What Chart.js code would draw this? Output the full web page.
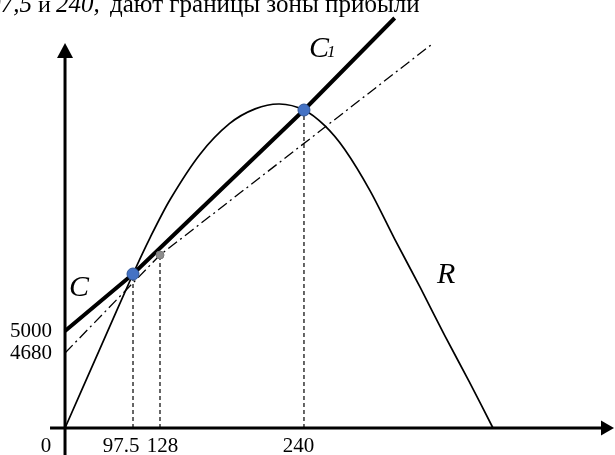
<!DOCTYPE html>
<html>
<head>
<meta charset="utf-8">
<style>
  html, body { margin: 0; padding: 0; background: #fff; }
  #wrap { width: 615px; height: 455px; }
</style>
<script src="https://cdn.jsdelivr.net/npm/chart.js@4.4.1/dist/chart.umd.min.js"></script>
</head>
<body>
<div id="wrap"><canvas id="c" width="615" height="455"></canvas></div>
<script>
// Marked values on the axes
const xTicks = [97.5, 128, 240];
const yTicks = [4680, 5000];

// Revenue curve R (output -> revenue)
const revenueX = [0, 50, 97.5, 117, 136, 159, 182, 202, 221, 240, 262, 283, 310, 336, 363, 389, 415, 440];
const revenueY = [0, 4740, 7928, 9812, 11769, 14070, 15647, 16407, 16659, 16350, 15544, 14332, 12196, 9720, 7239, 4933, 2877, 0];

// Cost line starting at 5000 (bold)
const costX = [0, 97.5, 240, 336];
const costY = [5000, 7928, 16350, 21076];

// Cost line starting at 4680 (dash-dot)
const cost1X = [0, 128, 377];
const cost1Y = [4680, 8903, 19790];

// Break-even points and the point at 128
const breakEvenX = [97.5, 240];
const breakEvenY = [7928, 16350];
const midX = [128];
const midY = [8903];

// The drawing is schematic: each axis is stretched piecewise between its marked values.
// Pairs are [value, share of the axis length].
const AXIS_BREAKS = {
  x: [[-14.3, 0], [0, 0.0179], [97.5, 0.1393], [128, 0.1875], [240, 0.4446], [440, 0.7821], [569, 1]],
  y: [[0, 0], [4680, 0.1752], [5000, 0.2266], [22000, 1]]
};
const AXIS_TICKS = { x: xTicks, y: yTicks };

class BrokenLinearScale extends Chart.LinearScale {
  static id = 'brokenLinear';
  static defaults = {};
  _segments() { return AXIS_BREAKS[this.id]; }
  determineDataLimits() {
    const b = this._segments();
    this.min = b[0][0];
    this.max = b[b.length - 1][0];
  }
  buildTicks() {
    return AXIS_TICKS[this.id].map(value => ({ value }));
  }
  getPixelForValue(value) {
    if (value === null || value === undefined || isNaN(value)) return NaN;
    const b = this._segments();
    let i = 1;
    while (i < b.length - 1 && value > b[i][0]) i++;
    const [v0, f0] = b[i - 1];
    const [v1, f1] = b[i];
    return this.getPixelForDecimal(f0 + (value - v0) / (v1 - v0) * (f1 - f0));
  }
  getValueForPixel(pixel) {
    const d = this.getDecimalForPixel(pixel);
    const b = this._segments();
    let i = 1;
    while (i < b.length - 1 && d > b[i][1]) i++;
    const [v0, f0] = b[i - 1];
    const [v1, f1] = b[i];
    return v0 + (d - f0) / (f1 - f0) * (v1 - v0);
  }
}
Chart.register(BrokenLinearScale);

const SERIF = "'Liberation Serif', 'Times New Roman', serif";
const pts = (xs, ys) => xs.map((x, i) => ({ x, y: ys[i] }));

// Vertical guides from the axis up to each marked point
const guideX = [breakEvenX[0], midX[0], breakEvenX[1]];
const guideY = [breakEvenY[0], midY[0], breakEvenY[1]];
const guides = guideX.map((x, i) => ({
  data: [{ x, y: 0 }, { x, y: guideY[i] }],
  borderColor: '#000',
  borderWidth: 1.2,
  borderDash: [4, 3],
  pointRadius: 0,
  fill: false,
  clip: false
}));

// Axes with arrowheads, origin label, heading and curve names
const schemePlugin = {
  id: 'scheme',
  beforeDatasetsDraw(chart) {
    const { ctx } = chart;
    const xs = chart.scales.x, ys = chart.scales.y;
    const x0 = xs.getPixelForValue(0);
    const y0 = ys.getPixelForValue(0);
    const right = chart.width - 1;
    ctx.save();
    ctx.strokeStyle = '#000';
    ctx.fillStyle = '#000';
    ctx.lineWidth = 3;
    // horizontal axis
    ctx.beginPath();
    ctx.moveTo(x0 - 15, y0);
    ctx.lineTo(right - 10, y0);
    ctx.stroke();
    ctx.beginPath();
    ctx.moveTo(right, y0);
    ctx.lineTo(right - 13, y0 - 7.5);
    ctx.lineTo(right - 13, y0 + 7.5);
    ctx.closePath();
    ctx.fill();
    // vertical axis
    const top = 43;
    ctx.beginPath();
    ctx.moveTo(x0, chart.height);
    ctx.lineTo(x0, top + 10);
    ctx.stroke();
    ctx.beginPath();
    ctx.moveTo(x0, top);
    ctx.lineTo(x0 - 8, top + 15);
    ctx.lineTo(x0 + 8, top + 15);
    ctx.closePath();
    ctx.fill();
    ctx.restore();
  },
  afterDatasetsDraw(chart) {
    const { ctx } = chart;
    const xs = chart.scales.x;
    ctx.save();
    ctx.fillStyle = '#000';
    ctx.textBaseline = 'alphabetic';

    // tick labels under the horizontal axis
    const nudge = [-12, 2.5, -5.5];
    ctx.font = `21px ${SERIF}`;
    ctx.textAlign = 'center';
    xTicks.forEach((v, i) => {
      ctx.fillText(String(v), xs.getPixelForValue(v) + nudge[i], 452);
    });
    ctx.fillText('0', xs.getPixelForValue(0) - 19, 452);

    // heading line
    ctx.font = `italic 25px ${SERIF}`;
    ctx.textAlign = 'right';
    ctx.fillText('97,5', 32, 12);
    ctx.textAlign = 'left';
    ctx.font = `24px ${SERIF}`;
    ctx.fillText('и', 38, 12);
    ctx.font = `italic 25px ${SERIF}`;
    ctx.fillText('240,', 56, 12);
    ctx.font = `25px ${SERIF}`;
    ctx.fillText('дают границы зоны прибыли', 110, 12);

    // curve names
    ctx.font = `italic 30px ${SERIF}`;
    ctx.fillText('C', 69, 296);
    ctx.fillText('C', 309, 57);
    ctx.fillText('R', 437, 283);
    ctx.font = `italic 17px ${SERIF}`;
    ctx.fillText('1', 327, 57);
    ctx.restore();
  }
};

new Chart(document.getElementById('c'), {
  type: 'line',
  data: {
    datasets: [
      {
        data: pts(breakEvenX, breakEvenY),
        showLine: false,
        pointRadius: 6,
        pointBackgroundColor: '#4472C4',
        pointBorderColor: '#2F5597',
        pointBorderWidth: 1,
        clip: false
      },
      {
        data: pts(midX, midY),
        showLine: false,
        pointRadius: 4,
        pointBackgroundColor: '#8C8C8C',
        pointBorderColor: '#7A7A7A',
        pointBorderWidth: 1,
        clip: false
      },
      {
        data: pts(costX, costY),
        borderColor: '#000',
        borderWidth: 4,
        pointRadius: 0,
        tension: 0,
        fill: false,
        clip: false
      },
      {
        data: pts(cost1X, cost1Y),
        borderColor: '#000',
        borderWidth: 1.3,
        borderDash: [11, 4, 2, 4],
        pointRadius: 0,
        tension: 0,
        fill: false,
        clip: false
      },
      {
        data: pts(revenueX, revenueY),
        borderColor: '#000',
        borderWidth: 1.7,
        pointRadius: 0,
        tension: 0.3,
        fill: false,
        clip: false
      },
      ...guides
    ]
  },
  options: {
    responsive: false,
    animation: false,
    devicePixelRatio: 1,
    layout: { padding: 0, autoPadding: false },
    plugins: { legend: { display: false }, tooltip: { enabled: false } },
    scales: {
      x: {
        type: 'brokenLinear',
        position: 'bottom',
        grid: { display: false, drawTicks: false },
        border: { display: false },
        ticks: { display: false },
        afterFit: s => { s.height = 27; s.paddingLeft = 0; s.paddingRight = 0; }
      },
      y: {
        type: 'brokenLinear',
        position: 'left',
        grid: { display: false, drawTicks: false },
        border: { display: false },
        ticks: {
          autoSkip: false,
          padding: 3,
          color: '#000',
          font: { family: SERIF, size: 21 },
          callback: v => String(v)
        },
        afterFit: s => { s.width = 55; s.paddingTop = 0; s.paddingBottom = 0; }
      }
    }
  },
  plugins: [schemePlugin]
});
</script>
</body>
</html>
